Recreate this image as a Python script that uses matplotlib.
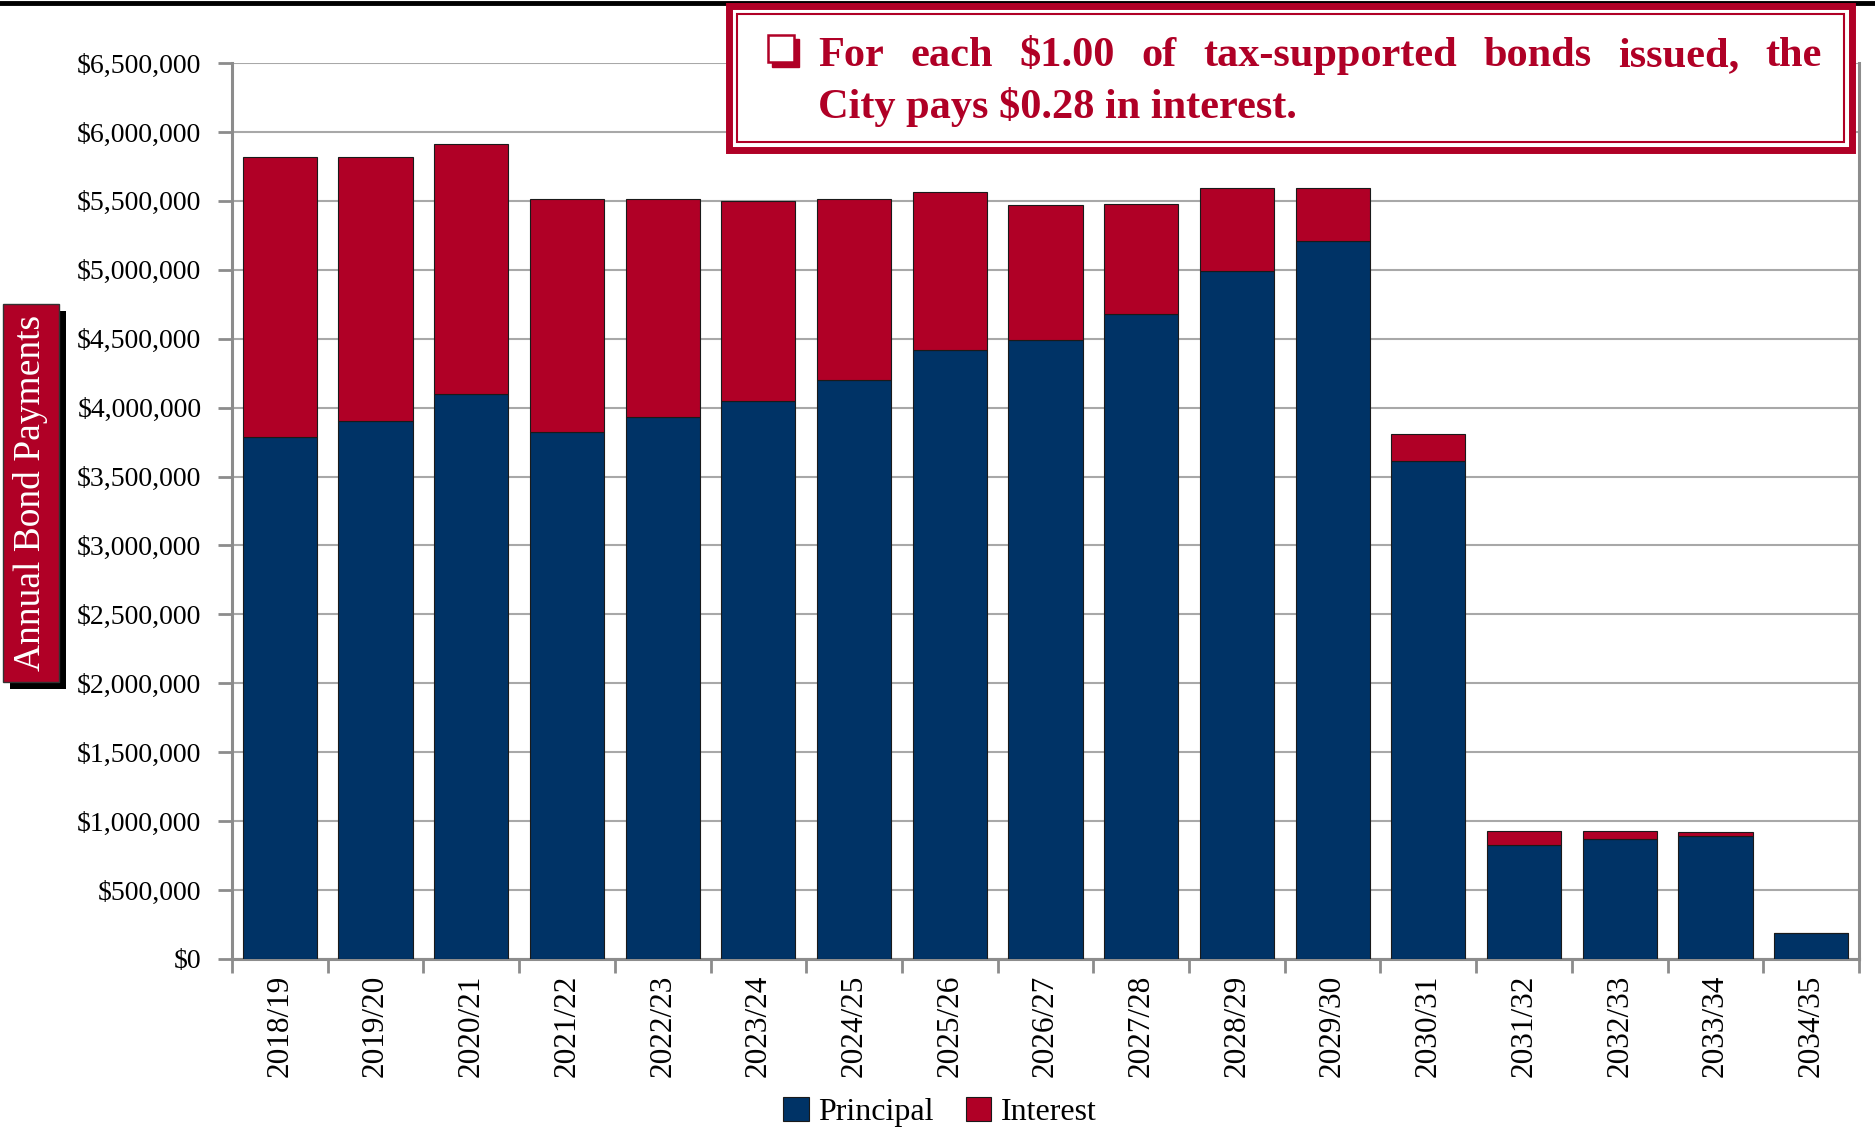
import matplotlib.pyplot as plt
import matplotlib.patheffects as pe
from matplotlib.patches import Rectangle, Patch
from matplotlib.lines import Line2D
from matplotlib.ticker import FuncFormatter, MultipleLocator
import numpy as np

years = ["2018/19", "2019/20", "2020/21", "2021/22", "2022/23", "2023/24",
         "2024/25", "2025/26", "2026/27", "2027/28", "2028/29", "2029/30",
         "2030/31", "2031/32", "2032/33", "2033/34", "2034/35"]
principal = [3.79e6, 3.90e6, 4.10e6, 3.82e6, 3.93e6, 4.05e6, 4.20e6, 4.42e6,
             4.49e6, 4.68e6, 4.99e6, 5.21e6, 3.61e6, 0.825e6, 0.867e6, 0.893e6,
             0.185e6]
total = [5.82e6, 5.82e6, 5.91e6, 5.51e6, 5.51e6, 5.50e6, 5.51e6, 5.565e6,
         5.47e6, 5.475e6, 5.59e6, 5.59e6, 3.805e6, 0.925e6, 0.928e6, 0.922e6,
         0.19e6]
interest = [t - p for t, p in zip(total, principal)]

navy = "#003366"
crimson = "#B00026"
W, H = 1875, 1134
serif = ["Liberation Serif", "DejaVu Serif"]

plt.rcParams["font.family"] = serif

def fx(px):
    return px / W

def fy(py):
    return 1 - py / H

def fig_rect(x0, y0, x1, y1, **kw):
    # rectangle given in pixel coords of the picture (y going down)
    return Rectangle((fx(x0), fy(y1)), fx(x1) - fx(x0), fy(y0) - fy(y1),
                     transform=fig.transFigure, **kw)

fig = plt.figure(figsize=(W / 100, H / 100), dpi=100)
ax = fig.add_axes([fx(232), fy(959), fx(1859) - fx(232), fy(63) - fy(959)])

x = np.arange(len(years))
ax.bar(x, principal, 0.775, color=navy, edgecolor="#1a1a1a", linewidth=0.8, zorder=3)
ax.bar(x, interest, 0.775, bottom=principal, color=crimson, edgecolor="#1a1a1a",
       linewidth=0.8, zorder=3)

ax.set_xlim(-0.5, len(years) - 0.5)
ax.set_ylim(0, 6.5e6)
ax.yaxis.set_major_locator(MultipleLocator(5e5))
ax.yaxis.set_major_formatter(FuncFormatter(lambda v, p: f"${v:,.0f}"))
ax.set_xticks(x, years, rotation=90)
ax.set_xticks(np.arange(-0.5, len(years)), minor=True)
ax.tick_params(axis="x", which="major", length=0, pad=11, labelsize=22.5)
ax.tick_params(axis="x", which="minor", length=10, width=2, color="#8c8c8c")
ax.tick_params(axis="y", length=10, width=2, color="#8c8c8c", pad=12, labelsize=20)

ax.yaxis.grid(True, color="#a8a8a8", linewidth=1.5)
ax.set_axisbelow(True)
for side in ["left", "bottom", "right"]:
    ax.spines[side].set_color("#8c8c8c")
    ax.spines[side].set_linewidth(2.2)
ax.spines["top"].set_visible(False)

# y label in a red box with black shadow
yl = fig.text(fx(31), fy(493), "Annual Bond Payments", rotation=90, color="white",
              fontsize=27, ha="center", va="center",
              bbox=dict(boxstyle="square,pad=0.28", facecolor=crimson,
                        edgecolor="#333333", linewidth=1))
yl.get_bbox_patch().set_path_effects([
    pe.SimplePatchShadow(offset=(5, -5), shadow_rgbFace="black", alpha=1),
    pe.Normal()])

# black rule along the top
fig.add_artist(Line2D([0, 1], [fy(3), fy(3)], color="black", linewidth=3.5,
                      transform=fig.transFigure))

# callout box with double border
fig.add_artist(fig_rect(729, 6, 1852, 150, facecolor="white", edgecolor=crimson,
                        linewidth=5, zorder=5))
fig.add_artist(fig_rect(737, 14, 1844, 142, facecolor="none", edgecolor=crimson,
                        linewidth=1.5, zorder=6))

# check box bullet with shadow
fig.add_artist(fig_rect(772, 39, 799, 67, facecolor=crimson, edgecolor=crimson,
                        linewidth=1, zorder=7))
fig.add_artist(fig_rect(768, 35, 794, 62, facecolor="white", edgecolor=crimson,
                        linewidth=1.8, zorder=8))

# first line justified between left and right edges
words = "For each $1.00 of tax-supported bonds issued, the".split()
left, right = 818, 1822
renderer = fig.canvas.get_renderer()
arts = [fig.text(0, fy(66), w, color=crimson, fontsize=30.5, fontweight="bold",
                 va="baseline", ha="left", zorder=7) for w in words]
widths = [a.get_window_extent(renderer).width for a in arts]
gap = (right - left - sum(widths)) / (len(words) - 1)
pos = left
for a, w in zip(arts, widths):
    a.set_x(fx(pos))
    pos += w + gap
fig.text(fx(left), fy(118), "City pays $0.28 in interest.", color=crimson,
         fontsize=30.5, fontweight="bold", va="baseline", ha="left", zorder=7)

handles = [Patch(facecolor=navy, edgecolor="#1a1a1a", linewidth=0.8, label="Principal"),
           Patch(facecolor=crimson, edgecolor="#1a1a1a", linewidth=0.8, label="Interest")]
fig.legend(handles=handles, loc="center", bbox_to_anchor=(fx(940), fy(1112)),
           ncol=2, frameon=False, fontsize=23, handlelength=0.8, handleheight=0.8,
           columnspacing=1.0, handletextpad=0.3)

fig.savefig("out.png", dpi=100)
